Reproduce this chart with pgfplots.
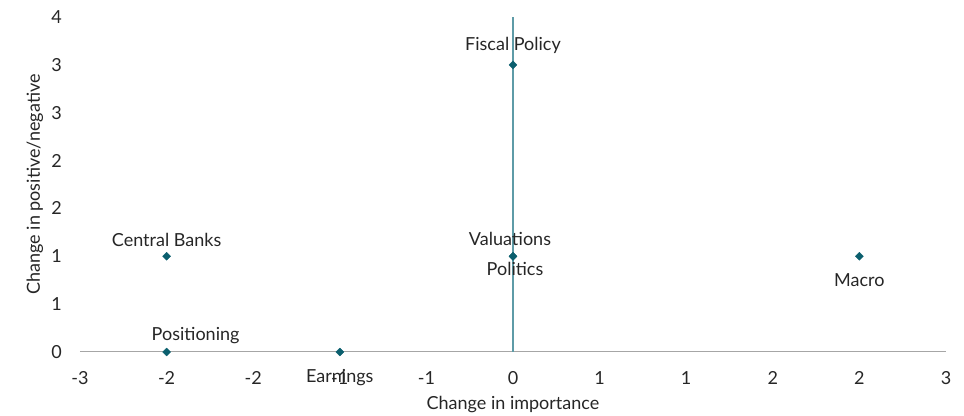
\documentclass[border=0pt]{standalone}
\usepackage{pgfplots}
\pgfplotsset{compat=1.18}
\usepackage{pgfplotstable}
\usepackage{fontspec}
\setmainfont{Lato}
\definecolor{mk}{HTML}{0B5F6E}
\definecolor{vline}{HTML}{5E9BA7}
\definecolor{hline}{HTML}{A6A6A6}
\definecolor{txt}{HTML}{262626}
\pgfplotstableread{
x y label dx dy
-2.4 1.1429 {Central Banks} 0 16
-2.4 0 Positioning 29 16
-1.2 0 Earnings 0 -26
0 3.4286 {Fiscal Policy} 0 19
0 1.1429 Valuations -3 17
0 1.1429 Politics 2 -13
2.4 1.1429 Macro 0 -24
}\datatable
\begin{document}
\fontsize{18}{21}\selectfont
\begin{tikzpicture}
\begin{axis}[
  scale only axis, width=866pt, height=335pt,
  xmin=-3, xmax=3, ymin=0, ymax=4,
  axis line style={draw=none},
  major tick length=0pt,
  clip=false,
  xtick={-3,-2.4,-1.8,-1.2,-0.6,0,0.6,1.2,1.8,2.4,3},
  xticklabels={-3,-2,-2,-1,-1,0,1,1,2,2,3},
  ytick={0,0.5714,1.1429,1.7143,2.2857,2.8571,3.4286,4},
  yticklabels={0,1,1,2,2,3,3,4},
  tick label style={font=\fontsize{18}{21}\selectfont, text=txt},
  xticklabel style={yshift=-13pt},
  yticklabel style={xshift=-12pt},
  xlabel={Change in importance},
  ylabel={Change in positive/negative},
  every axis x label/.style={at={(axis description cs:0.5,0)}, anchor=center, yshift=-53pt, font=\fontsize{18}{21}\selectfont, text=txt},
  every axis y label/.style={at={(axis description cs:0,0.5)}, anchor=center, xshift=-45pt, rotate=90, font=\fontsize{18}{21}\selectfont, text=txt},
]
\draw[hline, line width=1pt] (axis cs:-3,0) -- (axis cs:3,0);
\draw[vline, line width=1.3pt] (axis cs:0,0) -- (axis cs:0,4);
\addplot[only marks, mark=square*, mark size=2.8pt, color=mk,
  every mark/.append style={rotate=45},
  point meta=explicit symbolic,
  visualization depends on={\thisrow{dx} \as \dx},
  visualization depends on={\thisrow{dy} \as \dy},
  nodes near coords,
  nodes near coords style={anchor=center, xshift=\dx pt, yshift=\dy pt, text=txt, font=\fontsize{18}{21}\selectfont},
] table[x=x, y=y, meta=label] {\datatable};
\end{axis}
\pgfresetboundingbox
\path[use as bounding box] ([xshift=-80pt,yshift=-64pt]current axis.south west) rectangle ([xshift=18pt,yshift=17pt]current axis.north east);
\end{tikzpicture}
\end{document}
